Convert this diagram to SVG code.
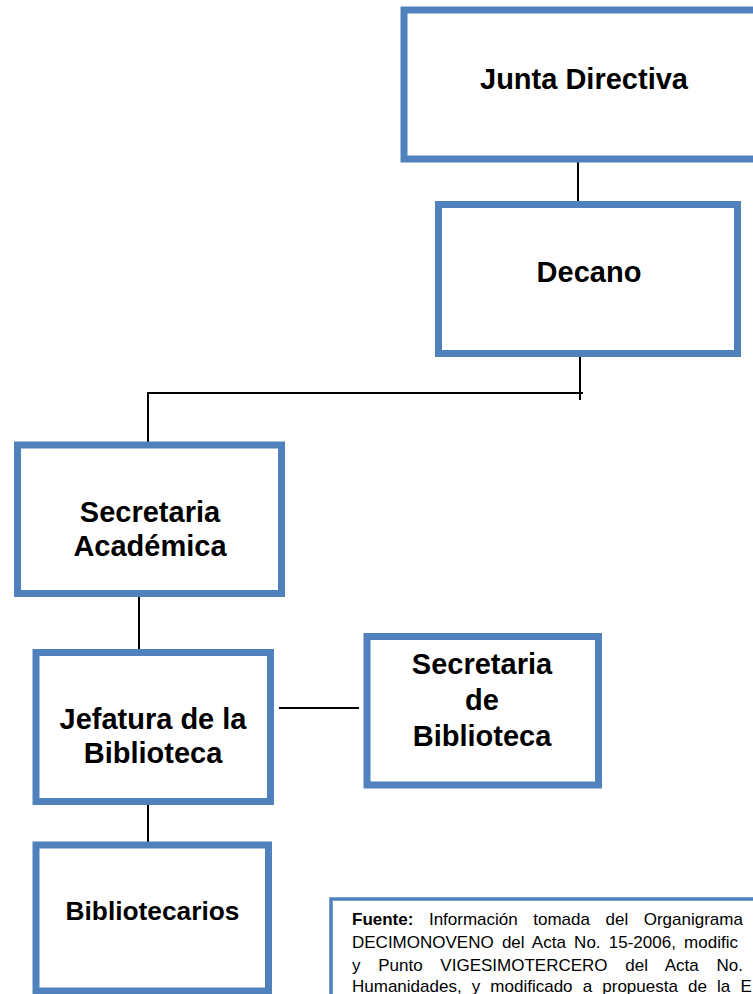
<svg xmlns="http://www.w3.org/2000/svg" width="753" height="994" viewBox="0 0 753 994">
<style>
.box{fill:#fff;stroke:#4F81BD;stroke-width:7}
.t{font-family:"Liberation Sans",Arial,sans-serif;font-weight:bold;font-size:29px;fill:#000;text-anchor:middle}
.ln{stroke:#000;stroke-width:2;fill:none}
.src{font-family:"Liberation Sans",Arial,sans-serif;font-size:17px;fill:#000}
</style>
<rect width="753" height="994" fill="#fff"/>
<g id="connectors">
<line class="ln" x1="578" y1="155" x2="578" y2="208"/>
<line class="ln" x1="580" y1="348" x2="580" y2="400"/>
<line class="ln" x1="147" y1="393" x2="583" y2="393"/>
<line class="ln" x1="148" y1="393" x2="148" y2="446"/>
<line class="ln" x1="139" y1="597" x2="139" y2="651"/>
<line class="ln" x1="279" y1="708" x2="359" y2="708"/>
<line class="ln" x1="148" y1="805" x2="148" y2="848"/>
</g>
<g id="junta">
<rect class="box" x="404" y="10" width="354" height="149"/>
<text class="t" x="584" y="89">Junta Directiva</text>
</g>
<g id="decano">
<rect class="box" x="438.5" y="204.5" width="299" height="149"/>
<text class="t" x="589" y="282">Decano</text>
</g>
<g id="secretaria-academica">
<rect class="box" x="17.5" y="445" width="264" height="148.5"/>
<text class="t" x="150" y="522">Secretaria</text>
<text class="t" x="150" y="556">Académica</text>
</g>
<g id="jefatura">
<rect class="box" x="36" y="652.5" width="234.5" height="149"/>
<text class="t" x="153" y="729">Jefatura de la</text>
<text class="t" x="153" y="763">Biblioteca</text>
</g>
<g id="secretaria-biblioteca">
<rect class="box" x="367" y="636.5" width="231.5" height="148.5"/>
<text class="t" x="482" y="674">Secretaria</text>
<text class="t" x="482" y="710">de</text>
<text class="t" x="482" y="746">Biblioteca</text>
</g>
<g id="bibliotecarios">
<rect class="box" x="36" y="845" width="232.5" height="146"/>
<text class="t" x="152.5" y="920" style="font-size:26.3px">Bibliotecarios</text>
</g>
<g id="fuente">
<rect x="331" y="899" width="500" height="200" fill="#fff" stroke="#4F81BD" stroke-width="3.5"/>
<text class="src" x="352" y="925" word-spacing="10.8"><tspan font-weight="bold">Fuente:</tspan> Información tomada del Organigrama</text>
<text class="src" x="352" y="948" word-spacing="3.5">DECIMONOVENO del Acta No. 15-2006, modific</text>
<text class="src" x="352" y="971" word-spacing="13">y Punto VIGESIMOTERCERO del Acta No.</text>
<text class="src" x="352" y="992" word-spacing="5.4">Humanidades, y modificado a propuesta de la E</text>
</g>
</svg>
